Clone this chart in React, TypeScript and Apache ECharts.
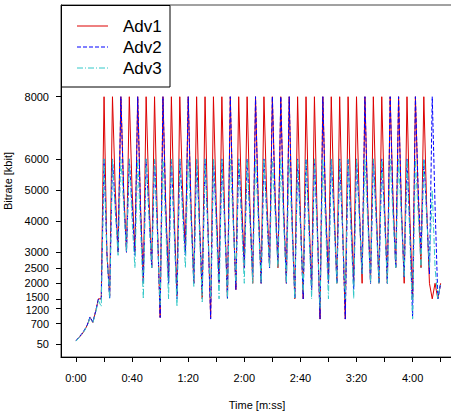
import React, { useEffect, useRef } from "react";
import * as echarts from "echarts";

// ---------- data ----------
const seriesNames = ["Adv1", "Adv2", "Adv3"];
const seriesColors = ["#dd0000", "#0000ff", "#33c8c8"];
const yTickValues = [50, 700, 1200, 1500, 2000, 2500, 3000, 4000, 5000, 6000, 8000];
const xTickValues = [0, 20, 40, 60, 80, 100, 120, 140, 160, 180, 200, 220, 240, 260];
const xLabelValues = [0, 40, 80, 120, 160, 200, 240];
const sampleStepSec = 2;

// Adv1 (kbit/s), one sample every 2 s starting at 0:00
const adv1 = [
  150, 250, 350, 480, 650, 900, 740, 1100, 1500, 1500,
  8000, 3000, 1600, 8000, 5000, 3000, 8000, 5000, 3000, 8000, 5000, 3000,
  8000, 4500, 2000, 8000, 4800, 2500, 8000, 4000, 900, 8000, 4500, 2000,
  8000, 4200, 1600, 8000, 5000, 3000, 8000, 4500, 2000, 8000, 4000, 1500,
  8000, 4000, 900, 8000, 4500, 2000, 8000, 4200, 1500, 8000, 4300, 1800,
  8000, 4800, 2500, 8000, 4500, 2000, 8000, 4500, 2000, 8000, 4800, 2500,
  8000, 4800, 2500, 8000, 4500, 2000, 8000, 4200, 1500, 8000, 4200, 1500,
  8000, 4300, 1800, 8000, 4000, 850, 8000, 4500, 2000, 8000, 4500, 2000,
  8000, 4000, 850, 8000, 4500, 2000, 8000, 4500, 2000, 8000, 4500, 2000,
  8000, 4500, 2000, 8000, 4500, 2000, 8000, 4800, 2500, 8000, 4500, 2000,
  8000, 4200, 1500, 8000, 4800, 2500, 8000, 4500, 2000,
  1500, 2000, 1500, 2000,
];

// Adv2
const adv2 = [
  150, 260, 370, 500, 660, 920, 750, 1100, 1500, 1500,
  6000, 3000, 1500, 6000, 4500, 3000, 8000, 4800, 3000, 6000, 4500, 2900,
  8000, 4300, 2000, 6000, 4300, 2500, 6000, 3800, 900, 8000, 4300, 2000,
  6000, 3800, 1500, 6000, 4500, 2900, 8000, 4300, 2000, 6000, 4000, 1700,
  6000, 3800, 850, 6000, 4200, 2000, 6000, 4000, 1500, 8000, 4300, 1800,
  6000, 4300, 2500, 6000, 4200, 2200, 8000, 4300, 2000, 6000, 4300, 2500,
  8000, 4500, 2700, 8000, 4300, 2000, 8000, 4000, 1500, 6000, 4000, 1500,
  6000, 4000, 1800, 6000, 3800, 850, 8000, 4300, 2000, 6000, 4200, 2000,
  6000, 3800, 850, 6000, 4000, 1800, 6000, 4300, 2300, 8000, 4300, 2000,
  6000, 4200, 2000, 6000, 4200, 2000, 8000, 4500, 2500, 8000, 4300, 2200,
  6000, 3800, 900, 8000, 5000, 3000, 6000, 4300, 2300,
  8000, 4500, 1500, 2000,
];

// Adv3
const adv3 = [
  140, 240, 360, 470, 640, 880, 730, 1050, 1450, 1250,
  6000, 3000, 1500, 6000, 4300, 2900, 6000, 4500, 3000, 6000, 4000, 2500,
  6000, 3800, 1500, 6000, 4200, 2500, 6000, 3600, 1300, 6000, 3800, 1500,
  6000, 3600, 1250, 6000, 4200, 2500, 6000, 4000, 1900, 6000, 3700, 1400,
  6000, 3800, 1500, 6000, 3800, 1500, 6000, 3800, 1500, 6000, 4000, 2000,
  6000, 4000, 2000, 6000, 4000, 2000, 6000, 4000, 2000, 6000, 4200, 2500,
  6000, 4200, 2500, 6000, 4000, 2000, 6000, 3800, 1500, 6000, 3800, 1700,
  6000, 3800, 1500, 6000, 3600, 1200, 6000, 3800, 1500, 6000, 4000, 2000,
  6000, 3800, 1500, 6000, 3800, 1500, 6000, 4100, 2300, 6000, 4000, 2000,
  6000, 4000, 2000, 6000, 4000, 2000, 6000, 4200, 2500, 6000, 4100, 2200,
  6000, 3500, 850, 6000, 4200, 2500, 6000, 4200, 2500,
  5000, 2500, 1500, 2000,
];

const seriesValues = [adv1, adv2, adv3];
const lineDashes: (number[] | "solid")[] = ["solid", [4, 2], [6, 2, 1, 2]];

const FONT = "'Liberation Sans', Arial, Helvetica, sans-serif";

function fmtTime(v: number): string {
  const m = Math.floor(v / 60);
  const s = Math.round(v - m * 60);
  return `${m}:${s < 10 ? "0" + s : s}`;
}

export default function App() {
  const ref = useRef<HTMLDivElement>(null);
  useEffect(() => {
    if (!ref.current) return;
    const chart = echarts.init(ref.current, undefined, { renderer: "svg" });

    const series = seriesNames.map((name, i) => ({
      name,
      type: "line",
      data: seriesValues[i].map((v, j) => [j * sampleStepSec, v]),
      symbol: "none",
      lineStyle: { color: seriesColors[i], width: 1, type: lineDashes[i] },
      itemStyle: { color: seriesColors[i] },
      z: 2 + i,
    }));

    const legendRows = [26, 47, 68];
    const legendGraphics: any[] = [
      {
        type: "rect",
        shape: { x: 61.5, y: 5.5, width: 108.5, height: 81.5 },
        style: { fill: "#fff", stroke: "#000", lineWidth: 1 },
        z: 100,
      },
    ];
    seriesNames.forEach((name, i) => {
      legendGraphics.push({
        type: "line",
        shape: { x1: 77, y1: legendRows[i], x2: 108, y2: legendRows[i] },
        style: {
          stroke: seriesColors[i],
          lineWidth: 1,
          lineDash: lineDashes[i] === "solid" ? null : lineDashes[i],
        },
        z: 101,
      });
      legendGraphics.push({
        type: "text",
        x: 123,
        y: legendRows[i],
        style: {
          text: name,
          fontSize: 17,
          fontFamily: FONT,
          fill: "#000",
          verticalAlign: "middle",
          align: "left",
        },
        z: 101,
      });
    });

    chart.setOption({
      animation: false,
      backgroundColor: "#fff",
      textStyle: { fontFamily: FONT },
      grid: {
        show: true,
        left: 61,
        top: 5,
        right: -2,
        bottom: 59,
        borderColor: "#444",
        borderWidth: 1,
        backgroundColor: "transparent",
        containLabel: false,
        outerBoundsMode: "none",
      },
      xAxis: {
        type: "value",
        min: -10.7,
        max: 268.8,
        axisLine: { show: true, onZero: false, lineStyle: { color: "#000", width: 1 } },
        axisTick: {
          show: true,
          customValues: xTickValues,
          length: 5,
          lineStyle: { color: "#000", width: 1 },
        },
        axisLabel: {
          customValues: xLabelValues,
          formatter: (v: number) => fmtTime(v),
          fontSize: 11,
          color: "#000",
          margin: 15,
          fontFamily: FONT,
        },
        splitLine: { show: false },
        name: "Time [m:ss]",
        nameLocation: "middle",
        nameGap: 42,
        nameTextStyle: { fontSize: 11, color: "#000", fontFamily: FONT },
      },
      yAxis: {
        type: "value",
        min: -370,
        max: 10950,
        axisLine: { show: true, onZero: false, lineStyle: { color: "#000", width: 1 } },
        axisTick: {
          show: true,
          customValues: yTickValues,
          length: 5,
          lineStyle: { color: "#000", width: 1 },
        },
        axisLabel: {
          customValues: yTickValues,
          formatter: (v: number) =>
            v === 1500 ? `{up|${v}}` : v === 1200 ? `{dn|${v}}` : String(v),
          fontSize: 11,
          color: "#000",
          margin: 12,
          fontFamily: FONT,
          rich: {
            up: { fontSize: 10.5, lineHeight: 10, padding: [0, 0, 4, 0], fontFamily: FONT, color: "#000" },
            dn: { fontSize: 10.5, lineHeight: 10, padding: [4, 0, 0, 0], fontFamily: FONT, color: "#000" },
          },
        },
        splitLine: { show: false },
        name: "Bitrate [kbit]",
        nameLocation: "middle",
        nameGap: 31,
        nameRotate: 90,
        nameTextStyle: { fontSize: 11, color: "#000", fontFamily: FONT },
      },
      series,
      graphic: legendGraphics,
    });

    return () => chart.dispose();
  }, []);

  return (
    <div
      ref={ref}
      style={{ position: "absolute", left: 0, top: 0, width: 451, height: 416 }}
    />
  );
}
